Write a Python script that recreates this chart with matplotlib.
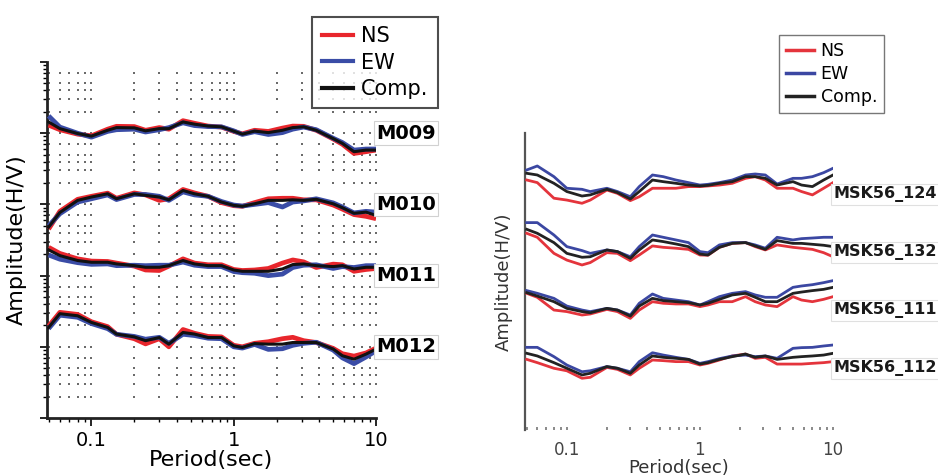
import numpy as np
import matplotlib.pyplot as plt
from matplotlib.lines import Line2D
from matplotlib.ticker import NullFormatter, NullLocator

# periods (sec) shared by every H/V curve
periods = [0.05, 0.06, 0.08, 0.1, 0.13, 0.15, 0.2, 0.24, 0.3, 0.35,
           0.44, 0.53, 0.66, 0.82, 1.0, 1.15, 1.4, 1.75, 2.2, 2.6,
           3.1, 3.8, 5.0, 5.8, 7.0, 8.5, 10.0]

# left panel: M009 .. M012
left_names = ["M009", "M010", "M011", "M012"]
left_offsets = [1e4, 1e3, 1e2, 1e1]

m009_ns = [1.30, 1.12, 0.97, 0.92, 1.14, 1.25, 1.24, 1.10, 1.20, 1.14, 1.50, 1.38, 1.26, 1.22,
           1.06, 0.98, 1.10, 1.06, 1.18, 1.26, 1.25, 1.10, 0.83, 0.70, 0.52, 0.55, 0.58]
m009_ew = [1.75, 1.22, 1.00, 0.88, 1.06, 1.12, 1.14, 1.04, 1.12, 1.20, 1.40, 1.28, 1.24, 1.23,
           1.08, 0.96, 1.05, 0.96, 1.02, 1.14, 1.22, 1.12, 0.85, 0.74, 0.58, 0.60, 0.60]
m009_comp = [1.44, 1.16, 0.99, 0.91, 1.10, 1.20, 1.19, 1.08, 1.16, 1.16, 1.44, 1.34, 1.26, 1.23,
             1.07, 0.97, 1.07, 1.02, 1.10, 1.20, 1.23, 1.10, 0.84, 0.72, 0.55, 0.58, 0.58]

m010_ns = [0.45, 0.80, 1.18, 1.30, 1.44, 1.22, 1.45, 1.36, 1.14, 1.20, 1.62, 1.45, 1.30, 1.06,
           0.96, 0.94, 1.06, 1.20, 1.22, 1.22, 1.16, 1.16, 0.98, 0.86, 0.72, 0.68, 0.63]
m010_ew = [0.50, 0.74, 1.08, 1.20, 1.36, 1.17, 1.38, 1.38, 1.30, 1.14, 1.50, 1.36, 1.30, 1.10,
           0.98, 0.95, 1.00, 1.06, 0.92, 1.08, 1.12, 1.20, 1.05, 0.92, 0.76, 0.80, 0.78]
m010_comp = [0.48, 0.77, 1.14, 1.27, 1.41, 1.20, 1.41, 1.34, 1.27, 1.16, 1.57, 1.41, 1.30, 1.08,
             0.97, 0.94, 1.02, 1.14, 1.14, 1.16, 1.14, 1.18, 1.02, 0.90, 0.75, 0.78, 0.70]

m011_ns = [2.50, 2.05, 1.72, 1.60, 1.58, 1.50, 1.36, 1.20, 1.18, 1.36, 1.72, 1.50, 1.42, 1.42,
           1.22, 1.18, 1.20, 1.26, 1.50, 1.66, 1.56, 1.30, 1.45, 1.42, 1.15, 1.22, 1.26]
m011_ew = [1.95, 1.70, 1.52, 1.44, 1.46, 1.38, 1.40, 1.38, 1.40, 1.40, 1.55, 1.40, 1.34, 1.34,
           1.14, 1.10, 1.08, 1.00, 1.05, 1.30, 1.40, 1.42, 1.26, 1.34, 1.30, 1.38, 1.38]
m011_comp = [2.30, 1.91, 1.63, 1.54, 1.54, 1.46, 1.38, 1.31, 1.31, 1.38, 1.63, 1.46, 1.38, 1.38,
             1.20, 1.15, 1.15, 1.15, 1.24, 1.43, 1.46, 1.38, 1.34, 1.38, 1.24, 1.31, 1.31]

m012_ns = [1.95, 3.05, 2.85, 2.25, 1.92, 1.50, 1.30, 1.10, 1.30, 1.00, 1.75, 1.55, 1.40, 1.38,
           1.05, 1.00, 1.12, 1.18, 1.30, 1.36, 1.22, 1.15, 0.95, 0.80, 0.74, 0.82, 0.96]
m012_ew = [1.80, 2.78, 2.60, 2.12, 1.80, 1.50, 1.40, 1.28, 1.36, 1.12, 1.50, 1.44, 1.32, 1.30,
           1.00, 0.96, 1.08, 0.92, 0.94, 1.05, 1.12, 1.16, 0.90, 0.70, 0.58, 0.72, 0.88]
m012_comp = [1.87, 2.92, 2.73, 2.20, 1.87, 1.51, 1.38, 1.22, 1.35, 1.09, 1.59, 1.51, 1.35, 1.35,
             1.03, 0.98, 1.11, 1.09, 1.09, 1.15, 1.15, 1.15, 0.93, 0.75, 0.67, 0.79, 0.93]

# right panel: MSK56 stations
right_names = ["MSK56_124", "MSK56_132", "MSK56_111", "MSK56_112"]
right_offsets = [1e4, 1e3, 1e2, 1e1]

msk124_ns = [2.04, 1.84, 0.99, 0.92, 0.81, 0.92, 1.37, 1.20, 0.90, 1.05, 1.47, 1.47, 1.47, 1.57,
             1.57, 1.61, 1.67, 1.79, 2.18, 2.33, 2.04, 1.47, 1.47, 1.29, 1.13, 1.47, 1.84]
msk124_ew = [3.04, 3.56, 2.33, 1.47, 1.41, 1.29, 1.47, 1.29, 1.05, 1.57, 2.49, 2.33, 2.04, 1.84,
             1.67, 1.72, 1.84, 2.04, 2.49, 2.59, 2.49, 1.74, 2.18, 2.18, 2.33, 2.73, 3.25]
msk124_comp = [2.66, 2.49, 1.79, 1.29, 1.08, 1.13, 1.41, 1.24, 0.96, 1.29, 2.04, 1.91, 1.79, 1.67,
               1.61, 1.65, 1.79, 1.91, 2.33, 2.33, 2.18, 1.67, 1.91, 1.67, 1.57, 2.04, 2.49]

msk132_ns = [2.46, 2.10, 1.11, 0.85, 0.70, 0.77, 1.14, 1.11, 0.83, 1.04, 1.49, 1.41, 1.36, 1.30,
             1.04, 1.03, 1.41, 1.65, 1.70, 1.45, 1.27, 1.55, 1.41, 1.36, 1.30, 1.14, 0.97]
msk132_ew = [3.76, 3.76, 2.30, 1.45, 1.24, 1.11, 1.27, 1.19, 0.97, 1.45, 2.30, 2.10, 1.89, 1.70,
             1.19, 1.14, 1.55, 1.70, 1.70, 1.55, 1.36, 2.10, 1.89, 1.99, 2.04, 2.10, 2.10]
msk132_comp = [2.88, 2.46, 1.70, 1.11, 0.95, 0.97, 1.27, 1.19, 0.91, 1.27, 1.89, 1.77, 1.61, 1.45,
               1.08, 1.04, 1.41, 1.65, 1.70, 1.49, 1.30, 1.84, 1.65, 1.65, 1.59, 1.53, 1.45]

msk111_ns = [2.27, 1.94, 1.17, 1.10, 0.96, 1.00, 1.20, 1.10, 0.84, 1.17, 1.63, 1.53, 1.49, 1.49,
             1.34, 1.43, 1.63, 1.63, 1.99, 1.63, 1.43, 1.34, 1.99, 1.74, 1.63, 1.79, 1.99]
msk111_ew = [2.53, 2.27, 1.86, 1.37, 1.17, 1.10, 1.25, 1.17, 0.96, 1.53, 2.21, 1.86, 1.74, 1.63,
             1.43, 1.63, 1.99, 2.27, 2.43, 2.13, 1.94, 1.94, 2.88, 3.04, 3.20, 3.47, 3.76]
msk111_comp = [2.33, 2.04, 1.63, 1.25, 1.10, 1.05, 1.25, 1.17, 0.92, 1.37, 1.86, 1.70, 1.63, 1.57,
               1.43, 1.53, 1.79, 2.13, 2.27, 1.94, 1.63, 1.63, 2.27, 2.39, 2.53, 2.66, 2.88]

msk112_ns = [1.65, 1.45, 1.16, 1.05, 0.78, 0.81, 1.20, 1.11, 0.89, 1.16, 1.61, 1.57, 1.51, 1.51,
             1.32, 1.41, 1.61, 1.89, 2.04, 1.72, 1.79, 1.37, 1.37, 1.37, 1.41, 1.45, 1.51]
msk112_ew = [2.66, 2.66, 1.84, 1.32, 1.01, 1.05, 1.24, 1.16, 1.01, 1.51, 2.15, 1.96, 1.79, 1.65,
             1.41, 1.51, 1.70, 1.89, 1.96, 1.84, 1.89, 1.72, 2.56, 2.63, 2.66, 2.81, 2.92]
msk112_comp = [2.10, 1.89, 1.45, 1.16, 0.89, 0.95, 1.24, 1.16, 0.95, 1.32, 1.89, 1.79, 1.72, 1.65,
               1.37, 1.45, 1.65, 1.84, 2.04, 1.79, 1.89, 1.65, 1.79, 1.84, 1.89, 1.96, 2.10]

left_curves = [
    (m009_ns, m009_ew, m009_comp),
    (m010_ns, m010_ew, m010_comp),
    (m011_ns, m011_ew, m011_comp),
    (m012_ns, m012_ew, m012_comp),
]
right_curves = [
    (msk124_ns, msk124_ew, msk124_comp),
    (msk132_ns, msk132_ew, msk132_comp),
    (msk111_ns, msk111_ew, msk111_comp),
    (msk112_ns, msk112_ew, msk112_comp),
]

RED = "#e8262c"
BLUE = "#3a4ca6"
BLACK = "#111111"

plt.rcParams["font.family"] = ["DejaVu Sans"]

fig = plt.figure(figsize=(9.38, 4.76), dpi=100)

# ---------------- left panel ----------------
ax1 = fig.add_axes([0.0498, 0.1218, 0.3511, 0.7479])
ax1.set_xscale("log")
ax1.set_yscale("log")
ax1.set_xlim(0.0485, 10)
ax1.set_ylim(1, 1e5)

# dotted grid, drawn as dots where the grid lines cross
xg = np.concatenate([ax1.xaxis.get_majorticklocs(), ax1.xaxis.get_minorticklocs()])
xg = xg[(xg > 0.0485) & (xg <= 10)]
yg = np.array([m * v for v in ax1.yaxis.get_majorticklocs() for m in (1, 2, 3, 4, 5, 7)])
yg = yg[(yg > 1) & (yg < 1e5)]
gx, gy = np.meshgrid(xg, yg)
ax1.scatter(gx.ravel(), gy.ravel(), s=3, marker="s", color="0.42",
            linewidths=0, zorder=1)

for (ns, ew, comp), off, name in zip(left_curves, left_offsets, left_names):
    ax1.plot(periods, np.array(ns) * off, color=RED, lw=3.4, zorder=3,
             solid_capstyle="butt")
    ax1.plot(periods, np.array(ew) * off, color=BLUE, lw=3.4, zorder=3,
             solid_capstyle="butt")
    ax1.plot(periods, np.array(comp) * off, color=BLACK, lw=2.2, zorder=4)
    ax1.text(1.0, off, name, transform=ax1.get_yaxis_transform(),
             fontsize=14, fontweight="bold", ha="left", va="center",
             clip_on=False, zorder=6,
             bbox=dict(boxstyle="square,pad=0.12", fc="white",
                       ec="0.82", lw=0.8))

for side in ["top", "right"]:
    ax1.spines[side].set_visible(False)
for side in ["left", "bottom"]:
    ax1.spines[side].set_linewidth(2.0)
    ax1.spines[side].set_color("#222222")

ax1.set_xticks([0.1, 1, 10])
ax1.set_xticklabels(["0.1", "1", "10"])
ax1.xaxis.set_minor_formatter(NullFormatter())
ax1.tick_params(axis="x", which="major", length=6, width=1.2, labelsize=14, pad=3)
ax1.tick_params(axis="x", which="minor", length=3, width=1.0)
ax1.tick_params(axis="y", which="both", labelleft=False)
ax1.tick_params(axis="y", which="major", length=5, width=1.2)
ax1.tick_params(axis="y", which="minor", length=3, width=1.0)
ax1.set_xlabel("Period(sec)", fontsize=16, labelpad=0)
ax1.set_ylabel("Amplitude(H/V)", fontsize=16, labelpad=9)

handles = [Line2D([], [], color=RED, lw=3),
           Line2D([], [], color=BLUE, lw=3),
           Line2D([], [], color=BLACK, lw=3)]
leg1 = fig.legend(handles, ["NS", "EW", "Comp."], loc="upper right",
                  bbox_to_anchor=(438 / 938, 1 - 17 / 476), fontsize=15,
                  frameon=True, fancybox=False, handlelength=1.5,
                  handletextpad=0.4, labelspacing=0.3, borderpad=0.45,
                  borderaxespad=0)
leg1.get_frame().set_edgecolor("#222222")
leg1.get_frame().set_linewidth(1.5)

# ---------------- right panel ----------------
ax2 = fig.add_axes([0.5597, 0.0966, 0.3284, 0.6240])
ax2.set_xscale("log")
ax2.set_yscale("log")
ax2.set_xlim(0.0485, 10)
ax2.set_ylim(1, 10 ** 5.12)

for (ns, ew, comp), off, name in zip(right_curves, right_offsets, right_names):
    ax2.plot(periods, np.array(ns) * off, color="#e4343c", lw=2.0, zorder=3)
    ax2.plot(periods, np.array(ew) * off, color="#3b47a2", lw=2.0, zorder=3)
    ax2.plot(periods, np.array(comp) * off, color="#222222", lw=2.0, zorder=4)
    ax2.text(1.0, off * 1.15, name, transform=ax2.get_yaxis_transform(),
             fontsize=11.5, fontweight="bold", color="#1a1a1a",
             ha="left", va="center", clip_on=False, zorder=6,
             bbox=dict(boxstyle="square,pad=0.15", fc="white",
                       ec="0.88", lw=0.8))

for side in ["top", "right", "bottom"]:
    ax2.spines[side].set_visible(False)
ax2.spines["left"].set_linewidth(1.6)
ax2.spines["left"].set_color("#555555")

ax2.set_xticks([0.1, 1, 10])
ax2.set_xticklabels(["0.1", "1", "10"])
ax2.xaxis.set_minor_formatter(NullFormatter())
ax2.tick_params(axis="x", which="both", direction="in", length=2.5,
                width=1.2, color="#777777", labelcolor="#444444",
                labelsize=12, pad=8)
ax2.yaxis.set_major_locator(NullLocator())
ax2.yaxis.set_minor_locator(NullLocator())
ax2.set_xlabel("Period(sec)", fontsize=13, color="#333333", labelpad=0)
ax2.set_ylabel("Amplitude(H/V)", fontsize=13, color="#333333", labelpad=9)

handles2 = [Line2D([], [], color="#e4343c", lw=2.5),
            Line2D([], [], color="#3b47a2", lw=2.5),
            Line2D([], [], color="#222222", lw=2.5)]
leg2 = fig.legend(handles2, ["NS", "EW", "Comp."], loc="upper right",
                  bbox_to_anchor=(884 / 938, 1 - 35 / 476), fontsize=12.5,
                  frameon=True, fancybox=False, handlelength=1.6,
                  handletextpad=0.4, labelspacing=0.3, borderpad=0.4,
                  borderaxespad=0)
leg2.get_frame().set_edgecolor("#555555")
leg2.get_frame().set_linewidth(1.0)

fig.savefig("out.png", dpi=100)
